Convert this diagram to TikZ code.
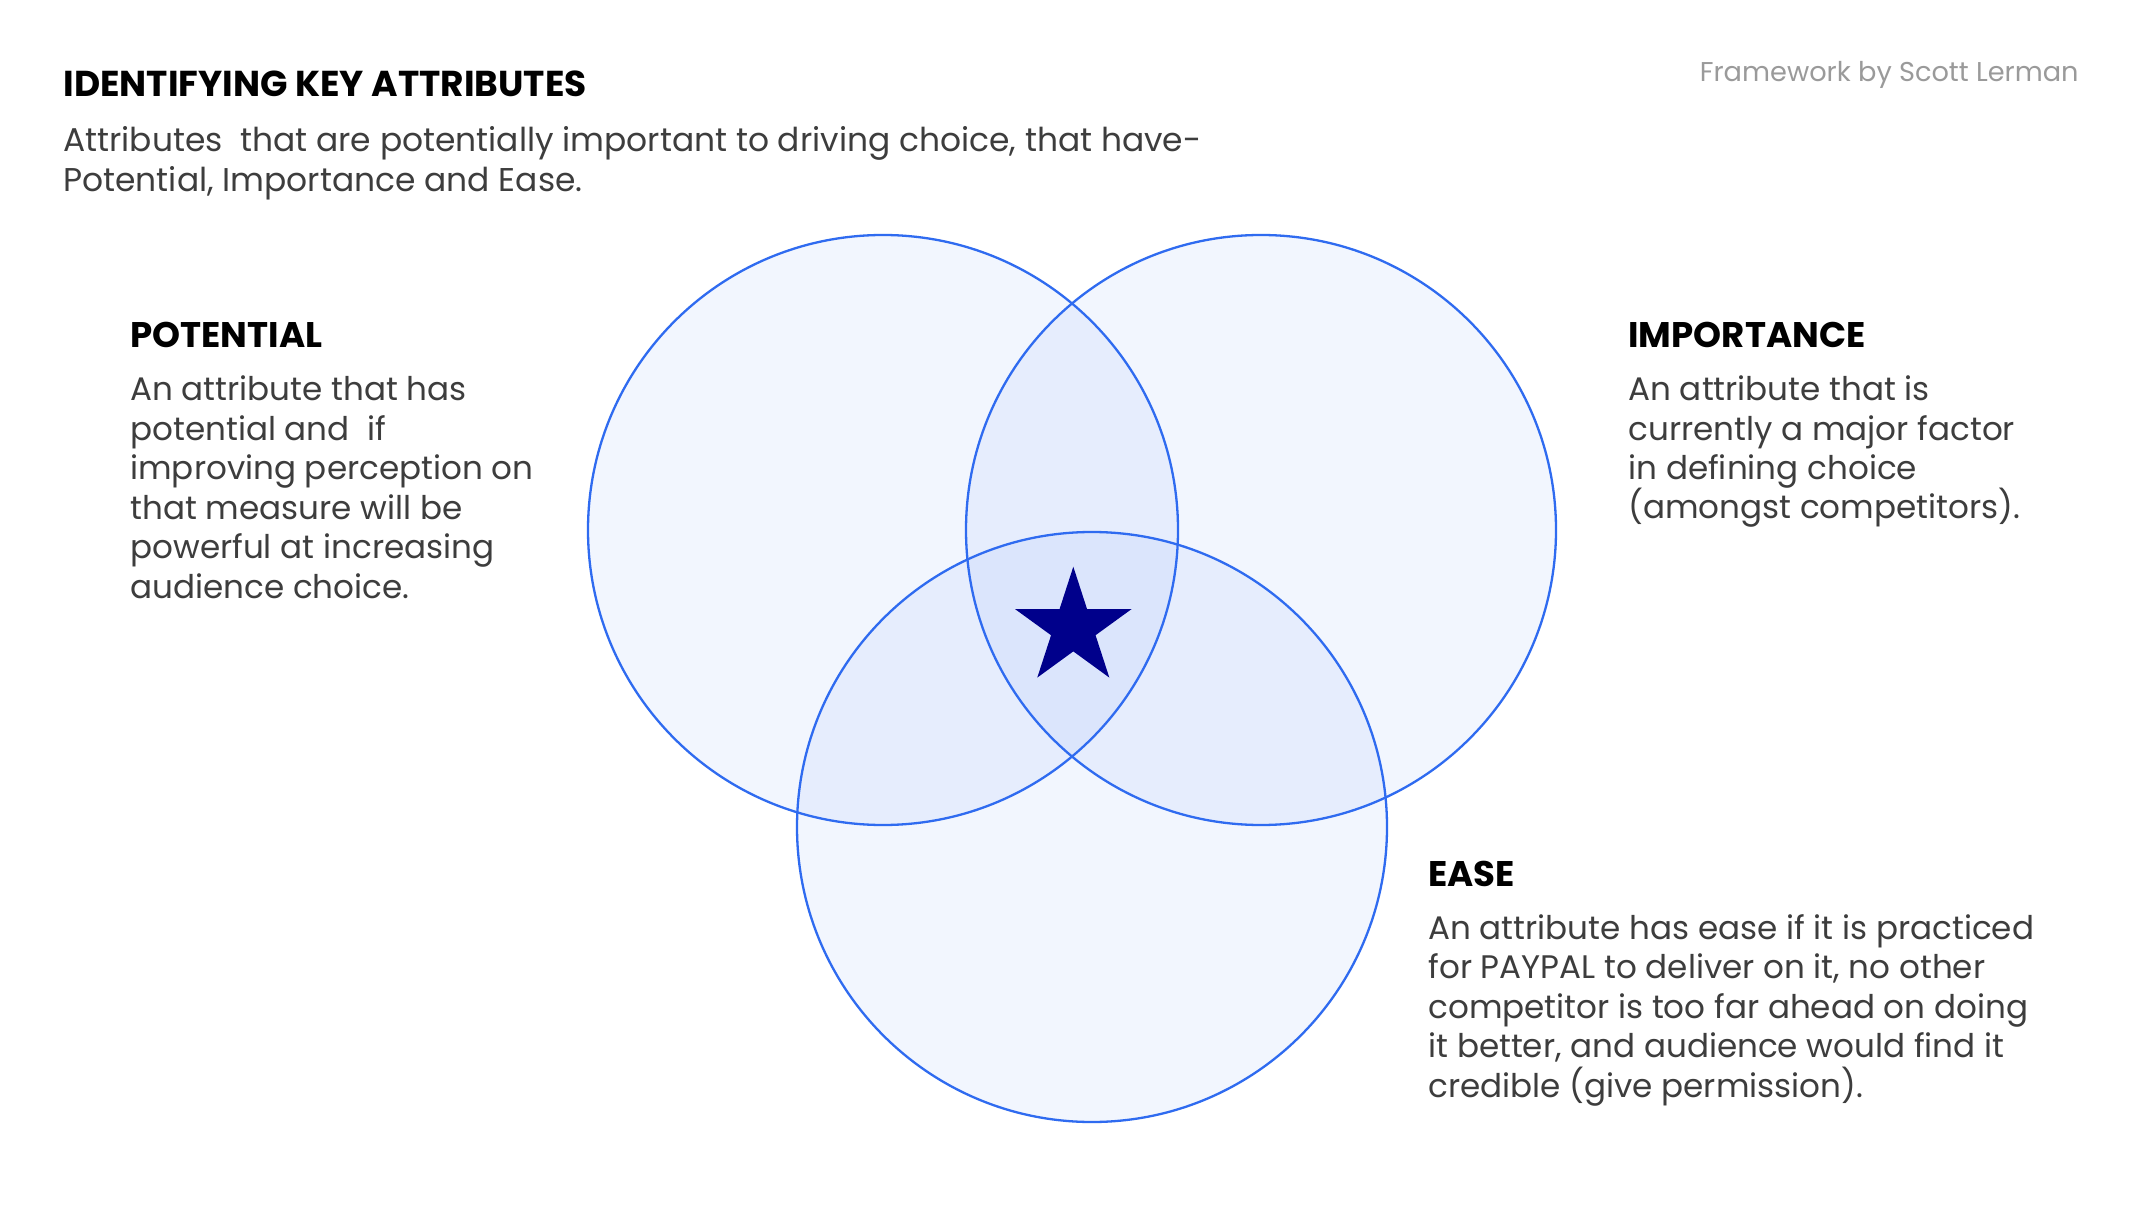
\documentclass[tikz,border=0pt]{standalone}
\usepackage{fontspec}
\setmainfont{Poppins}
\definecolor{ringblue}{HTML}{2F6BF0}
\definecolor{starblue}{HTML}{00008B}
\definecolor{bodygray}{HTML}{3D3D3D}
\definecolor{creditgray}{HTML}{9A9A9A}
\begin{document}
\begin{tikzpicture}[x=0.5bp,y=-0.5bp,
  ring/.style={draw=ringblue, line width=1.15bp},
  ringfill/.style={fill=ringblue, fill opacity=0.058},
  head/.style={anchor=base west, inner sep=0, text=black,
    font=\bfseries\fontsize{17.8bp}{21bp}\selectfont},
  % multi-line blocks are placed by the baseline of their last line
  body/.style={anchor=base west, inner sep=0, align=left, text=bodygray,
    font=\fontsize{16.3bp}{19.7bp}\selectfont},
]
\useasboundingbox (0,0) rectangle (2148,1206);
\fill[white] (0,0) rectangle (2148,1206);

% circle centres
\coordinate (cP) at (883,530);
\coordinate (cI) at (1261,530);
\coordinate (cE) at (1092,827);

% translucent discs, then their outlines on top
\foreach \c in {cP,cI,cE} \fill[ringfill] (\c) circle[radius=295];
\foreach \c in {cP,cI,cE} \draw[ring] (\c) circle[radius=295];

% star in the common region
\begin{scope}[shift={(1073.3,628)}]
  \fill[starblue] (0,-61.3) -- (13.75,-18.93) -- (58.3,-18.94) -- (22.25,7.23)
    -- (36.03,49.6) -- (0,23.4) -- (-36.03,49.6) -- (-22.25,7.23)
    -- (-58.3,-18.94) -- (-13.75,-18.93) -- cycle;
\end{scope}

% title block
\node[head, font=\bfseries\fontsize{18bp}{21bp}\selectfont] (title) at (63,97) {IDENTIFYING KEY ATTRIBUTES};
\node[body, font=\fontsize{16.45bp}{19.8bp}\selectfont] (intro) at (63,191.5) {Attributes\ \ that are potentially important to driving choice, that have-\\Potential, Importance and Ease.};
\node[anchor=base east, inner sep=0, text=creditgray, font=\fontsize{13.6bp}{17bp}\selectfont] (credit) at (2079,82) {Framework by Scott Lerman};

% potential
\node[head] (hP) at (130,348) {POTENTIAL};
\node[body] (tP) at (130,598) {An attribute that has\\potential and\ \ if\\improving perception on\\that measure will be\\powerful at increasing\\audience choice.};

% importance
\node[head] (hI) at (1628,348) {IMPORTANCE};
\node[body] (tI) at (1628,519) {An attribute that is\\currently a major factor\\in defining choice\\(amongst competitors).};

% ease
\node[head] (hE) at (1428,886) {EASE};
\node[body] (tE) at (1428,1097) {An attribute has ease if it is practiced\\for PAYPAL to deliver on it, no other\\competitor is too far ahead on doing\\it better, and audience would find it\\credible (give permission).};
\end{tikzpicture}
\end{document}
